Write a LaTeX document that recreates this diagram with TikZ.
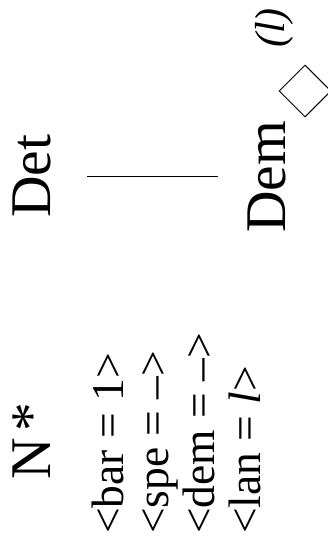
\documentclass[tikz,border=0pt]{standalone}
\usepackage{fontspec}
\setmainfont{Liberation Serif}
\usetikzlibrary{shapes.geometric}
\begin{document}
\begin{tikzpicture}[x=1pt,y=1pt,
  big/.style={rotate=90,anchor=base west,inner sep=0pt,font=\fontsize{57.5}{60}\selectfont},
  feat/.style={rotate=90,anchor=base west,inner sep=0pt,font=\fontsize{45.5}{48}\selectfont},
  sup/.style={rotate=90,anchor=base west,inner sep=0pt,font=\fontsize{42}{46}\selectfont\itshape}]
\useasboundingbox (0,0) rectangle (327,-546);
\node[big] (det) at (50,-218) {Det};
\node[big] (dem) at (285,-233) {Dem};
\node[big] (n) at (50,-480) {N\kern0.12em*};
\node[feat] (f1) at (123,-534) {<bar = 1>};
\node[feat] (f2) at (168.5,-534) {<spe = –>};
\node[feat] (f3) at (214,-534) {<dem = –>};
\node[feat] (f4) at (260,-534) {<lan = \textit{l}>};
\node[draw,shape=diamond,minimum width=52pt,minimum height=52pt,inner sep=0pt,line width=1pt] (dia) at (305,-91) {};
\node[sup] (l) at (284.5,-48) {(l)};
\draw[line width=1.2pt,shorten <=36pt,shorten >=29pt] (det.south) -- (det.south -| dem.north);
\end{tikzpicture}
\end{document}
